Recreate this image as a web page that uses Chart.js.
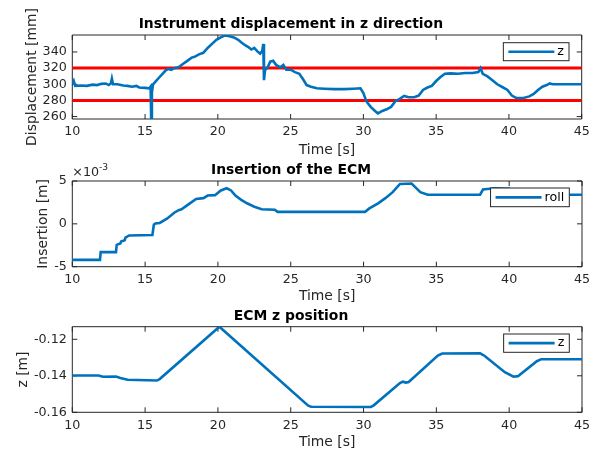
<!DOCTYPE html>
<html>
<head>
<meta charset="utf-8">
<script src="https://cdn.jsdelivr.net/npm/chart.js@4.4.1/dist/chart.umd.min.js"></script>
<style>
  html, body { margin: 0; padding: 0; background: #fff; width: 602px; height: 449px; overflow: hidden; }
  canvas { position: absolute; left: 0; }
</style>
</head>
<body>
<canvas id="c1" width="602" height="159" style="top:0px"></canvas>
<canvas id="c2" width="602" height="155" style="top:150px"></canvas>
<canvas id="c3" width="602" height="153" style="top:298px"></canvas>
<script>
'use strict';

// ── data ──────────────────────────────────────────────────────
const xTicks = [10, 15, 20, 25, 30, 35, 40, 45];
const dispTicks = [260, 280, 300, 320, 340];
const insTicks = [-5, 0, 5];
const ecmTicks = [-0.16, -0.14, -0.12];
const dispLimits = [280, 320];

// instrument displacement z [mm]
const dispTime = [10.0, 10.1, 10.2, 10.6, 11.0, 11.4, 11.7, 12.0, 12.3, 12.5, 12.65, 12.72, 12.8, 13.1, 13.5,
  13.8, 14.1, 14.4, 14.6, 15.0, 15.3, 15.38, 15.42, 15.47, 15.55, 15.7, 16.0, 16.2, 16.4, 16.6, 16.8, 17.0,
  17.3, 17.6, 17.9, 18.2, 18.4, 18.7, 19.0, 19.3, 19.6, 19.9, 20.2, 20.5, 20.8, 21.1, 21.4, 21.6, 21.9, 22.1,
  22.3, 22.5, 22.7, 22.9, 23.05, 23.12, 23.17, 23.25, 23.4, 23.6, 23.8, 24.0, 24.3, 24.5, 24.7, 25.0, 25.3,
  25.6, 25.9, 26.1, 26.4, 26.8, 27.3, 28.0, 28.7, 29.3, 29.8, 30.0, 30.2, 30.5, 30.8, 31.0, 31.3, 31.6, 31.9,
  32.2, 32.5, 32.8, 33.1, 33.5, 33.8, 34.1, 34.4, 34.7, 35.0, 35.3, 35.6, 36.0, 36.5, 37.0, 37.5, 37.9, 38.05,
  38.2, 38.5, 38.8, 39.2, 39.6, 39.9, 40.2, 40.5, 41.0, 41.4, 41.7, 42.0, 42.3, 42.6, 42.8, 43.0, 44.0, 45.0];
const dispZ = [300, 304, 298, 298.5, 298, 299.5, 299, 300.5, 301, 299, 301, 307, 300, 300, 298.5,
  298, 297, 298, 296, 295.5, 295, 297, 257, 290, 300, 303, 309, 313, 317, 319, 318, 320,
  321, 325, 329, 333, 334, 337, 339, 345, 350, 355, 358, 360.5, 359.5, 358, 355, 352, 348, 346,
  343, 345, 341, 338, 341, 350, 305, 318, 320, 328, 329, 324, 321, 324, 318, 318, 315,
  313, 305, 299, 297, 295, 294.5, 294, 294, 294.5, 295, 289, 279, 272, 267, 264, 267, 269, 272,
  279, 282, 285.5, 284, 284, 286, 293, 296, 298, 304, 309, 313, 313.5, 313, 314, 314, 315, 320,
  313, 310, 306, 300, 296, 293, 286, 283, 283, 285, 288, 293, 297, 299, 301, 300, 300, 300];

// ECM insertion [x10^-3 m]
const insTime = [10.0, 11.9, 11.95, 13.0, 13.05, 13.3, 13.35, 13.6, 13.65, 13.9, 15.5, 15.6, 15.7, 16.0, 16.5,
  17.0, 17.3, 17.5, 18.0, 18.5, 19.0, 19.3, 19.8, 20.2, 20.6, 20.9, 21.2, 21.6, 22.0, 22.5, 23.0, 23.9,
  24.1, 30.1, 30.4, 31.0, 31.5, 32.0, 32.5, 33.3, 33.6, 33.9, 34.4, 38.0, 38.2, 39.0, 40.0, 40.1, 45.0];
const insVal = [-4.2, -4.2, -3.3, -3.3, -2.45, -2.3, -2.05, -1.9, -1.6, -1.35, -1.3, -0.1, 0.05, 0.1, 0.6,
  1.3, 1.6, 1.7, 2.3, 2.9, 3.0, 3.3, 3.35, 3.9, 4.15, 3.9, 3.3, 2.8, 2.4, 2.0, 1.7, 1.65,
  1.4, 1.4, 1.8, 2.4, 3.0, 3.7, 4.65, 4.7, 4.2, 3.7, 3.4, 3.4, 4.0, 4.15, 4.1, 3.4, 3.4];

// ECM z position [m]
const ecmTime = [10.0, 11.8, 12.1, 13.0, 13.3, 13.8, 15.8, 16.0, 20.1, 26.2, 26.4, 30.5, 30.7, 32.5, 32.7,
  32.9, 33.1, 35.1, 35.4, 38.0, 38.3, 39.7, 40.3, 40.6, 41.9, 42.2, 45.0];
const ecmZ = [-0.1398, -0.1398, -0.1405, -0.1404, -0.1412, -0.1422, -0.1426, -0.1418, -0.1131, -0.1564, -0.1570,
  -0.1571, -0.1562, -0.1440, -0.1432, -0.1437, -0.1434, -0.1289, -0.1278, -0.1277, -0.1290, -0.1380, -0.1405,
  -0.1402, -0.1320, -0.1309, -0.1309];

// ── style ─────────────────────────────────────────────────────
const FONT = "'DejaVu Sans', sans-serif";
const AXIS = '#262626';
const BLUE = '#0072BD';
const TICK_SIZE = 12.7;
const LABEL_SIZE = 13.9;
const TITLE_SIZE = 13.9;
const LEGEND_SIZE = 12.7;
const LH = 1.2;

function pts(xs, ys) { return xs.map((x, i) => ({ x: x, y: ys[i] })); }

// box + inward ticks, MATLAB style
const boxPlugin = {
  id: 'matBox',
  beforeDatasetsDraw(chart) {
    const { ctx, chartArea: a, scales: { x, y } } = chart;
    const tl = 5;
    ctx.save();
    ctx.strokeStyle = AXIS;
    ctx.lineWidth = 1;
    ctx.beginPath();
    ctx.rect(a.left, a.top, a.right - a.left, a.bottom - a.top);
    x.ticks.forEach(t => {
      const px = x.getPixelForValue(t.value);
      ctx.moveTo(px, a.bottom); ctx.lineTo(px, a.bottom - tl);
      ctx.moveTo(px, a.top); ctx.lineTo(px, a.top + tl);
    });
    y.ticks.forEach(t => {
      const py = y.getPixelForValue(t.value);
      ctx.moveTo(a.left, py); ctx.lineTo(a.left + tl, py);
      ctx.moveTo(a.right, py); ctx.lineTo(a.right - tl, py);
    });
    ctx.stroke();
    ctx.restore();
  }
};

const legendPlugin = {
  id: 'matLegend',
  afterDatasetsDraw(chart, args, opts) {
    const { ctx, chartArea: a } = chart;
    const ds = chart.data.datasets[opts.index || 0];
    ctx.save();
    ctx.font = LEGEND_SIZE + 'px ' + FONT;
    const tw = ctx.measureText(ds.label).width;
    const w = 54 + tw + 5, h = opts.h;
    const x = a.right - opts.right - w, y = a.top + opts.top;
    ctx.fillStyle = '#fff';
    ctx.fillRect(x, y, w, h);
    ctx.strokeStyle = AXIS;
    ctx.lineWidth = 1;
    ctx.strokeRect(x, y, w, h);
    ctx.strokeStyle = ds.borderColor;
    ctx.lineWidth = ds.borderWidth;
    ctx.beginPath();
    ctx.moveTo(x + 5, y + h / 2);
    ctx.lineTo(x + 51, y + h / 2);
    ctx.stroke();
    ctx.fillStyle = '#000';
    ctx.textBaseline = 'middle';
    ctx.fillText(ds.label, x + 54, y + h / 2);
    ctx.restore();
  }
};

// "x10^-3" above the y axis
const expPlugin = {
  id: 'matExp',
  afterDraw(chart, args, opts) {
    if (!opts.text) return;
    const { ctx, chartArea: a } = chart;
    ctx.save();
    ctx.fillStyle = AXIS;
    ctx.textBaseline = 'middle';
    ctx.font = TICK_SIZE + 'px ' + FONT;
    ctx.fillText(opts.text, a.left, a.top - 8);
    const w = ctx.measureText(opts.text).width;
    ctx.font = (TICK_SIZE * 0.72) + 'px ' + FONT;
    ctx.fillText(opts.sup, a.left + w, a.top - 13);
    ctx.restore();
  }
};

function makeChart(o) {
  const tlh = TITLE_SIZE * LH, llh = LABEL_SIZE * LH;
  const padTop = o.titleCenter - o.top - tlh / 2;
  return new Chart(document.getElementById(o.id), {
    type: 'line',
    data: { datasets: o.datasets },
    options: {
      responsive: false,
      animation: false,
      events: [],
      layout: { padding: { left: 0, right: 602 - o.areaRight, top: 0, bottom: 0 } },
      plugins: {
        legend: { display: false },
        tooltip: { enabled: false },
        title: {
          display: true, text: o.title, color: '#000',
          font: { family: FONT, size: TITLE_SIZE, weight: 'bold', lineHeight: LH },
          padding: { top: padTop, bottom: o.areaTop - o.top - padTop - tlh }
        },
        matLegend: o.legend,
        matExp: o.exp || {}
      },
      scales: {
        x: {
          type: 'linear', min: 10, max: 45,
          afterBuildTicks: s => { s.ticks = xTicks.map(v => ({ value: v })); },
          afterFit: s => { s.height = o.top + o.height - o.areaBottom; },
          grid: { display: false, drawTicks: false },
          border: { display: false },
          ticks: { color: AXIS, font: { family: FONT, size: TICK_SIZE, lineHeight: LH }, padding: 5.5, autoSkip: false, maxRotation: 0 },
          title: {
            display: true, text: 'Time [s]', color: AXIS,
            font: { family: FONT, size: LABEL_SIZE, lineHeight: LH },
            padding: { top: 0, bottom: o.top + o.height - o.xTitleCenter - llh / 2 }
          }
        },
        y: {
          type: 'linear', min: o.yMin, max: o.yMax,
          afterBuildTicks: s => { s.ticks = o.yTicks.map(v => ({ value: v })); },
          afterFit: s => { s.width = o.areaLeft; },
          grid: { display: false, drawTicks: false },
          border: { display: false },
          ticks: { color: AXIS, font: { family: FONT, size: TICK_SIZE, lineHeight: LH }, padding: 5.5, autoSkip: false, callback: o.yFmt },
          title: {
            display: true, text: o.yTitle, color: AXIS,
            font: { family: FONT, size: LABEL_SIZE, lineHeight: LH },
            padding: { top: o.yTitleX - llh / 2, bottom: 0 }
          }
        }
      }
    },
    plugins: [boxPlugin, legendPlugin, expPlugin]
  });
}

function blueLine(label, xs, ys) {
  return { label: label, data: pts(xs, ys), borderColor: BLUE, borderWidth: 2.6, pointRadius: 0, tension: 0, fill: false };
}
function redLine(v) {
  return { label: 'limit', data: [{ x: 10, y: v }, { x: 45, y: v }], borderColor: '#FF0000', borderWidth: 3, pointRadius: 0, fill: false };
}

makeChart({
  id: 'c1', top: 0, height: 159,
  title: 'Instrument displacement in z direction', titleCenter: 24.3,
  areaTop: 35, areaBottom: 119, areaLeft: 72.3, areaRight: 581.7,
  xTitleCenter: 150, yTitle: 'Displacement [mm]', yTitleX: 32.2,
  yMin: 257, yMax: 361, yTicks: dispTicks, yFmt: v => String(v),
  legend: { index: 0, right: 12.7, top: 7.7, h: 18 },
  datasets: [blueLine('z', dispTime, dispZ)].concat(dispLimits.map(redLine))
});

makeChart({
  id: 'c2', top: 150, height: 155,
  title: 'Insertion of the ECM', titleCenter: 170.3,
  areaTop: 181, areaBottom: 266.7, areaLeft: 72.3, areaRight: 582,
  xTitleCenter: 296.5, yTitle: 'Insertion [m]', yTitleX: 43.8,
  yMin: -5, yMax: 5, yTicks: insTicks, yFmt: v => String(v),
  legend: { index: 0, right: 12.7, top: 7, h: 18.7 },
  exp: { text: '\u00d710', sup: '-3' },
  datasets: [blueLine('roll', insTime, insVal)]
});

makeChart({
  id: 'c3', top: 298, height: 153,
  title: 'ECM z position', titleCenter: 316,
  areaTop: 326.7, areaBottom: 412.3, areaLeft: 72.3, areaRight: 582,
  xTitleCenter: 442, yTitle: 'z [m]', yTitleX: 23,
  yMin: -0.16, yMax: -0.1131, yTicks: ecmTicks, yFmt: v => v.toFixed(2),
  legend: { index: 0, right: 12.7, top: 7.3, h: 18.3 },
  datasets: [blueLine('z', ecmTime, ecmZ)]
});
</script>
</body>
</html>
